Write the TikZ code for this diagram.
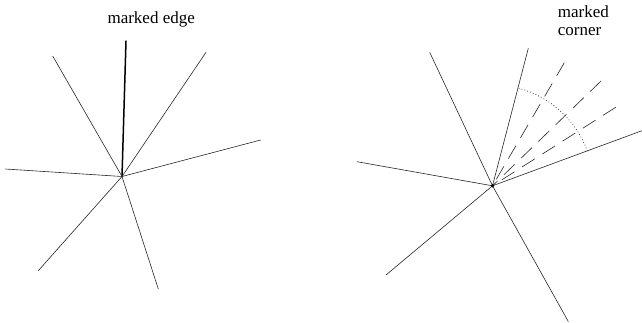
\documentclass[tikz,border=0pt]{standalone}
\usepackage{fontspec}
\setmainfont{Liberation Serif}
\begin{document}
\begin{tikzpicture}[x=1pt,y=1pt,
  edge/.style={line width=0.6pt, black!85},
  markededge/.style={line width=1.5pt, black},
  halfedge/.style={line width=0.6pt, black!85, dash pattern=on 15pt off 9pt},
  anglearc/.style={line width=0.7pt, black!80, dash pattern=on 0.8pt off 2.2pt},
  lbl/.style={inner sep=0pt, font=\rmfamily\fontsize{17}{18.3}\selectfont}]
\useasboundingbox (0,0) rectangle (642,322);
% left star
\coordinate (c1) at (122,145.5);
\coordinate (a1) at (126,281.3);
\coordinate (a2) at (52.7,266);
\coordinate (a3) at (206,269.7);
\coordinate (a4) at (260.7,182);
\coordinate (a5) at (5.3,153);
\coordinate (a6) at (38.3,51.3);
\coordinate (a7) at (158.3,33);
\draw[markededge] (c1) -- (a1);
\foreach \p in {a2,a3,a4,a5,a6,a7} \draw[edge] (c1) -- (\p);
\node[lbl, anchor=base] (le) at (151.2,298.7) {marked edge};
% right star
\coordinate (c2) at (492.5,136.2);
\coordinate (b1) at (429.7,269.7);
\coordinate (b2) at (528.3,273.7);
\coordinate (b3) at (642,191.3);
\coordinate (b4) at (357,160.3);
\coordinate (b5) at (386,47);
\coordinate (b6) at (568.3,0.5);
\coordinate (d1) at (564.3,259.3);
\coordinate (d2) at (601,241);
\coordinate (d3) at (615.7,214.7);
\foreach \p in {b1,b2,b3,b4,b5,b6} \draw[edge] (c2) -- (\p);
\foreach \p in {d1,d2,d3} \draw[halfedge] (\p) -- (c2);
\draw[anglearc] (c2) ++(75:101) arc[start angle=75, end angle=19, radius=101];
\fill (c2) circle[radius=1.8];
\node[lbl, anchor=north west, align=left] (rc) at (557.7,316.4) {marked\\corner};
\end{tikzpicture}
\end{document}
